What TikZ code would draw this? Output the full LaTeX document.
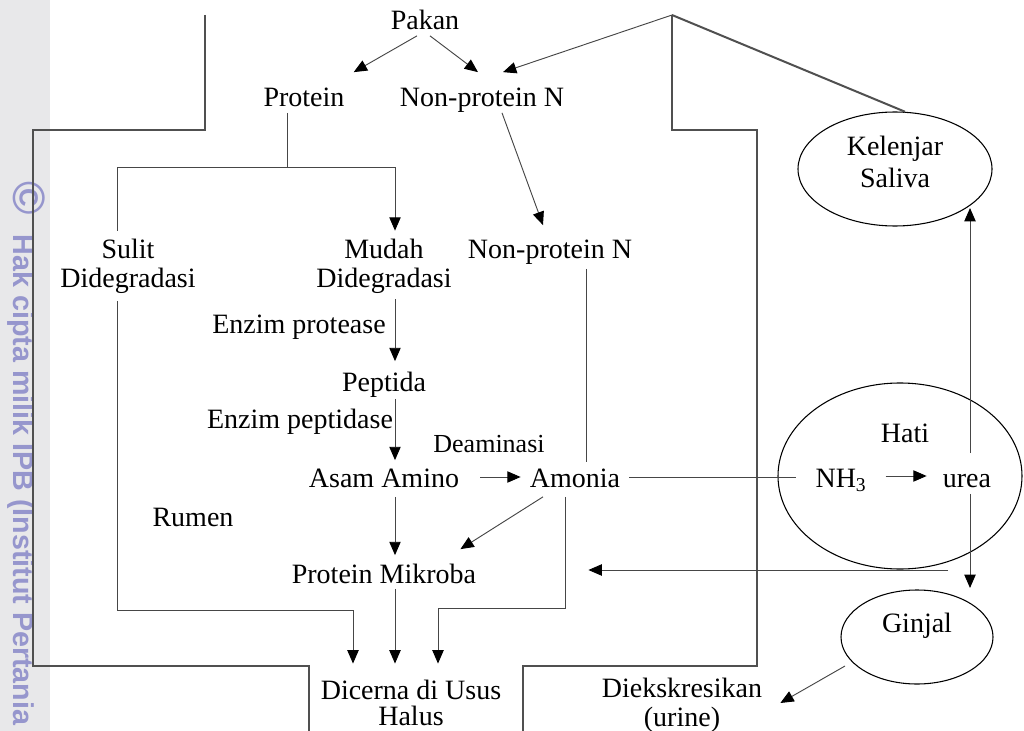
\documentclass[tikz,border=0pt]{standalone}
\usepackage{fontspec}
\setmainfont{Liberation Serif}
\newfontfamily\wmfont{Liberation Sans}
\usetikzlibrary{arrows.meta,shapes.geometric}
\definecolor{wallgray}{RGB}{80,80,80}
\definecolor{wiregray}{RGB}{70,70,70}
\definecolor{stripgray}{RGB}{232,232,234}
\definecolor{wmark}{RGB}{150,150,205}
\tikzset{
  lbl/.style={inner sep=0pt, text height=14.7pt, text depth=4.2pt, font=\fontsize{21}{21.5}\selectfont},
  twoline/.style={inner sep=0pt, align=center, font=\fontsize{21}{21.5}\selectfont},
  wall/.style={draw=wallgray, line width=1.5pt},
  wire/.style={draw=wiregray, line width=0.7pt},
  flow/.style={wire, -{Triangle[length=10pt,width=8.5pt,color=black]}},
  organ/.style={draw=black, ellipse, line width=0.8pt, inner sep=0pt},
}
\begin{document}
\begin{tikzpicture}[x=0.75pt,y=-0.75pt]
\useasboundingbox (0,0) rectangle (1024,731);
% watermark strip
\fill[stripgray] (0,0) rectangle (50,731);
\node[rotate=-90, anchor=west, inner sep=0pt, text=wmark, font=\wmfont\bfseries\fontsize{21.5}{21.5}\selectfont] (ipb) at (26,181) {{\fontsize{34}{34}\selectfont ©}\hspace{15pt}Hak cipta milik IPB (Institut Pertania};

% rumen walls
\draw[wall] (205,15) -- (205,130) -- (33,130) -- (33,666) -- (309,666) -- (309,731);
\coordinate (apex) at (672,15);
\draw[wall] (apex) -- (672,130) -- (757,130) -- (757,666) -- (523,666) -- (523,731);

% texts
\node[lbl] (pakan) at (425,23) {Pakan};
\node[lbl] (protein) at (304,100) {Protein};
\node[lbl] (npnA) at (482,100) {Non-protein N};
\node[twoline] (sulit) at (128,266) {Sulit\\Didegradasi};
\node[twoline] (mudah) at (384,266) {Mudah\\Didegradasi};
\node[lbl] (npnB) at (550,251) {Non-protein N};
\node[lbl] (protease) at (299,326) {Enzim protease};
\node[lbl] (peptida) at (384,384) {Peptida};
\node[lbl] (peptidase) at (300,421) {Enzim peptidase};
\node[lbl, font=\fontsize{19.5}{20}\selectfont] (deaminasi) at (489,445) {Deaminasi};
\node[lbl] (asam) at (384,480) {Asam Amino};
\node[lbl] (amonia) at (575,480) {Amonia};
\node[lbl] (rumen) at (193,519) {Rumen};
\node[lbl] (mikroba) at (384,576) {Protein Mikroba};
\node[twoline, font=\fontsize{21}{20}\selectfont] (dicerna) at (411,703) {Dicerna di Usus\\Halus};
\node[twoline] (diekskresi) at (682,705) {Diekskresikan\\(urine)};

% organs
\node[organ, minimum width=145.5pt, minimum height=85.5pt] (saliva) at (895,169) {};
\node[organ, minimum width=183pt, minimum height=139.5pt] (hati) at (900,476) {};
\node[organ, minimum width=114pt, minimum height=70.5pt] (ginjal) at (917,637) {};
\node[twoline, font=\fontsize{21}{24}\selectfont] (salivatxt) at (895,162) {Kelenjar\\Saliva};
\node[lbl] (hatitxt) at (905,435) {Hati};
\node[lbl] (nh3) at (841,480) {NH\textsubscript{3}};
\node[lbl] (urea) at (967,480) {urea};
\node[lbl] (ginjaltxt) at (917,625) {Ginjal};

% feed
\draw[flow] ([shift={(-8,0)}]pakan.south) -- ([shift={(9,-15)}]protein.north east);
\draw[flow] ([shift={(5,0)}]pakan.south) -- ([shift={(-4,-15)}]npnA.north);
\draw[flow] (apex) -- ([shift={(21,-15)}]npnA.north);
\draw[wall] (apex) -- (saliva.80);

% protein split
\draw[wire] ([shift={(-17,0)}]protein.south) -- ++(0,55) coordinate (fork);
\draw[wire] (fork) -| ([shift={(-11,-8)}]sulit.north);
\draw[flow] (fork) -| ([shift={(11,-8)}]mudah.north);
\draw[flow] ([shift={(20,0)}]npnA.south) -- ([shift={(-7,-13)}]npnB.north);
\draw[wire] ([shift={(36,5)}]npnB.south) -- ([shift={(11,-5)}]amonia.north);

% degradation
\draw[flow] ([shift={(11,6)}]mudah.south) -- ([shift={(11,-10)}]peptida.north);
\draw[flow] ([shift={(11,2)}]peptida.south) -- ([shift={(11,-7)}]asam.north);
\draw[flow] ([shift={(21,-3)}]asam.east) -- ([shift={(-9,-3)}]amonia.west);
\draw[flow] ([shift={(11,4)}]asam.south) -- ([shift={(11,-8)}]mikroba.north);
\draw[flow] ([shift={(-32,4)}]amonia.south) -- ([shift={(-16,-14)}]mikroba.north east);

% to small intestine
\draw[flow] ([shift={(-11,8)}]sulit.south) -- ++(0,309) -| ([shift={(-58,-16)}]dicerna.north);
\draw[flow] ([shift={(11,0)}]mikroba.south) -- ([shift={(-16,-16)}]dicerna.north);
\draw[flow] ([shift={(-10,4)}]amonia.south) -- ++(0,112) -| ([shift={(27,-16)}]dicerna.north);

% liver, saliva, kidney
\draw[wire] ([shift={(9,-3)}]amonia.east) -- ([shift={(-19,-3)}]nh3.west);
\draw[flow] ([shift={(19,-4)}]nh3.east) -- ([shift={(-16,-4)}]urea.west);
\draw[flow] ([shift={(3,-14)}]urea.north) -- ([shift={(75,39)}]saliva.center);
\draw[flow] ([shift={(3,1)}]urea.south) -- ([shift={(53,-49)}]ginjal.center);
\draw[flow] ([shift={(48,94)}]hati.center) -- ([shift={(112,-6)}]mikroba.east);
\draw[flow] ([shift={(-72,29)}]ginjal.center) -- ([shift={(18,-2)}]diekskresi.east);
\end{tikzpicture}
\end{document}
